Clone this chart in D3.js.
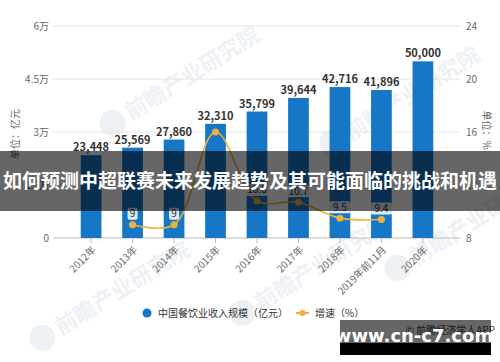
<!DOCTYPE html>
<html lang="zh">

<head>
  <meta charset="UTF-8">
  <title>中国餐饮业收入规模</title>
  <style>
    html,
    body {
      margin: 0;
      background: #fff;
    }

    svg {
      display: block;
      font-family: "Noto Sans CJK SC", "Noto Sans", sans-serif;
    }
  </style>
</head>

<body>
  <svg width="500" height="362"></svg>
  <script src="https://cdn.jsdelivr.net/npm/d3@7/dist/d3.min.js"></script>
  <script>
    // 数据
    var years = ['2012年', '2013年', '2014年', '2015年', '2016年', '2017年', '2018年', '2019年前11月', '2020年']
    var revenue = [23448, 25569, 27860, 32310, 35799, 39644, 42716, 41896, 50000]
    var growth = [null, 9, 9, 16, 10.8, 10.7, 9.5, 9.4, null]
    var growthText = [null, '9', '9', null, '10.8', '10.7', '9.5', '9.4', null]
    var leftTicks = [0, 15000, 30000, 45000, 60000]
    var leftTickText = ['0', '1.5万', '3万', '4.5万', '6万']
    var rightTicks = [8, 12, 16, 20, 24]

    var svg = d3.select('svg')
    var blue = '#1677c7'
    var gold = '#eeb23a'

    var x = d3.scaleBand().domain(years).range([60, 454]).padding(0.5)
    var yL = d3.scaleLinear().domain([0, 60000]).range([238, 26])
    var yR = d3.scaleLinear().domain([8, 24]).range([238, 26])

    // 水印
    var wm = svg.append('g').attr('fill', '#edf1f5')
    ;[[165, 90], [385, 110], [450, 235], [295, 280], [95, 305]].forEach(p => {
      var g = wm.append('g').attr('transform', `translate(${p[0]},${p[1]}) rotate(-32)`)
      g.append('circle').attr('cx', -62).attr('cy', 0).attr('r', 13)
      g.append('text').attr('x', -45).attr('y', 8).attr('font-size', 22).attr('font-weight', 'bold')
        .text('前瞻产业研究院')
    })

    // 网格
    svg.append('g').selectAll('line')
      .data(leftTicks.slice(1))
      .join('line')
      .attr('x1', 53).attr('x2', 460)
      .attr('y1', d => yL(d)).attr('y2', d => yL(d))
      .attr('stroke', '#e3e3e3')

    // 左轴
    svg.append('g').selectAll('text')
      .data(leftTicks)
      .join('text')
      .attr('x', 49).attr('y', d => yL(d)).attr('dy', '0.35em')
      .attr('text-anchor', 'end').attr('font-size', 10).attr('fill', '#666')
      .text((d, i) => leftTickText[i])

    // 右轴
    svg.append('g').selectAll('text')
      .data(rightTicks)
      .join('text')
      .attr('x', 466).attr('y', d => yR(d)).attr('dy', '0.35em')
      .attr('font-size', 10).attr('fill', '#666')
      .text(d => d)

    svg.append('text')
      .attr('transform', 'translate(15,134) rotate(-90)')
      .attr('text-anchor', 'middle').attr('dy', '0.35em')
      .attr('font-size', 10).attr('fill', '#666')
      .text('单位：亿元')

    svg.append('text')
      .attr('transform', 'translate(486,130) rotate(90)')
      .attr('text-anchor', 'middle').attr('dy', '0.35em')
      .attr('font-size', 10).attr('fill', '#666')
      .text('单位：%')

    // x 轴
    svg.append('line')
      .attr('x1', 53).attr('x2', 460).attr('y1', 238).attr('y2', 238)
      .attr('stroke', '#bbb')
    var xt = svg.append('g').selectAll('g')
      .data(years)
      .join('g')
      .attr('transform', d => `translate(${x(d) + x.bandwidth() / 2},238)`)
    xt.append('line').attr('y2', 5).attr('stroke', '#bbb')
    xt.append('text')
      .attr('transform', 'translate(3,10) rotate(-45)')
      .attr('text-anchor', 'end').attr('dy', '0.35em')
      .attr('font-size', 10).attr('fill', '#666')
      .text(d => d)

    // 柱
    svg.append('g').selectAll('rect')
      .data(revenue)
      .join('rect')
      .attr('x', (d, i) => x(years[i]))
      .attr('y', d => yL(d))
      .attr('width', x.bandwidth())
      .attr('height', d => 238 - yL(d))
      .attr('fill', blue)

    svg.append('g').selectAll('text')
      .data(revenue)
      .join('text')
      .attr('x', (d, i) => x(years[i]) + x.bandwidth() / 2)
      .attr('y', d => yL(d) - 4)
      .attr('text-anchor', 'middle')
      .attr('font-size', 11).attr('font-weight', 'bold').attr('fill', '#333')
      .text(d => d3.format(',')(d))

    // 增速线
    var pts = growth.map((v, i) => ({ v: v, t: growthText[i], cx: x(years[i]) + x.bandwidth() / 2 }))
      .filter(d => d.v != null)
    svg.append('path')
      .datum(pts)
      .attr('fill', 'none').attr('stroke', gold).attr('stroke-width', 1.6)
      .attr('d', d3.line().x(d => d.cx).y(d => yR(d.v)).curve(d3.curveCatmullRom.alpha(0.5)))
    svg.append('g').selectAll('circle')
      .data(pts)
      .join('circle')
      .attr('cx', d => d.cx).attr('cy', d => yR(d.v)).attr('r', 3.5)
      .attr('fill', gold)
    var lab = svg.append('g').selectAll('g')
      .data(pts.filter(d => d.t))
      .join('g')
      .attr('transform', d => `translate(${d.cx},${yR(d.v) - 11})`)
    lab.append('rect')
      .attr('x', d => -d.t.length * 3 - 2).attr('y', -6)
      .attr('width', d => d.t.length * 6 + 4).attr('height', 12).attr('rx', 2)
      .attr('fill', '#fff').attr('fill-opacity', 0.85)
    lab.append('text')
      .attr('text-anchor', 'middle').attr('dy', '0.35em')
      .attr('font-size', 10).attr('fill', '#333')
      .text(d => d.t)

    // 图例
    var lg = svg.append('g').attr('font-size', 10).attr('fill', '#333')
    lg.append('circle').attr('cx', 147).attr('cy', 313).attr('r', 4.5).attr('fill', blue)
    lg.append('text').attr('x', 158).attr('y', 313).attr('dy', '0.35em').text('中国餐饮业收入规模（亿元）')
    lg.append('line').attr('x1', 296).attr('x2', 309).attr('y1', 313).attr('y2', 313)
      .attr('stroke', gold).attr('stroke-width', 2)
    lg.append('circle').attr('cx', 302.5).attr('cy', 313).attr('r', 3).attr('fill', gold)
    lg.append('text').attr('x', 315).attr('y', 313).attr('dy', '0.35em').text('增速（%）')

    // 来源
    svg.append('text').attr('x', 495).attr('y', 334).attr('text-anchor', 'end')
      .attr('font-size', 10).attr('fill', '#444').text('© 前瞻经济学人APP')

    // 标题横幅
    svg.append('rect').attr('x', 0).attr('y', 151).attr('width', 500).attr('height', 60)
      .attr('fill', '#000').attr('fill-opacity', 0.6)
    svg.append('text').attr('x', 250).attr('y', 181).attr('dy', '0.35em')
      .attr('text-anchor', 'middle').attr('font-size', 19).attr('font-weight', 'bold')
      .attr('fill', '#fff')
      .text('如何预测中超联赛未来发展趋势及其可能面临的挑战和机遇')

    // 网址角标
    svg.append('rect').attr('x', 340).attr('y', 320).attr('width', 151).attr('height', 23)
      .attr('fill', '#000').attr('fill-opacity', 0.6)
    svg.append('rect').attr('x', 340).attr('y', 343).attr('width', 151).attr('height', 12)
      .attr('fill', '#000')
    svg.append('text').attr('x', 414).attr('y', 336).attr('dy', '0.35em')
      .attr('text-anchor', 'middle').attr('font-size', 18).attr('font-weight', 'bold')
      .attr('font-family', 'Verdana, "DejaVu Sans", sans-serif')
      .attr('fill', '#fff').text('www.cn-c7.com')
  </script>
</body>

</html>
